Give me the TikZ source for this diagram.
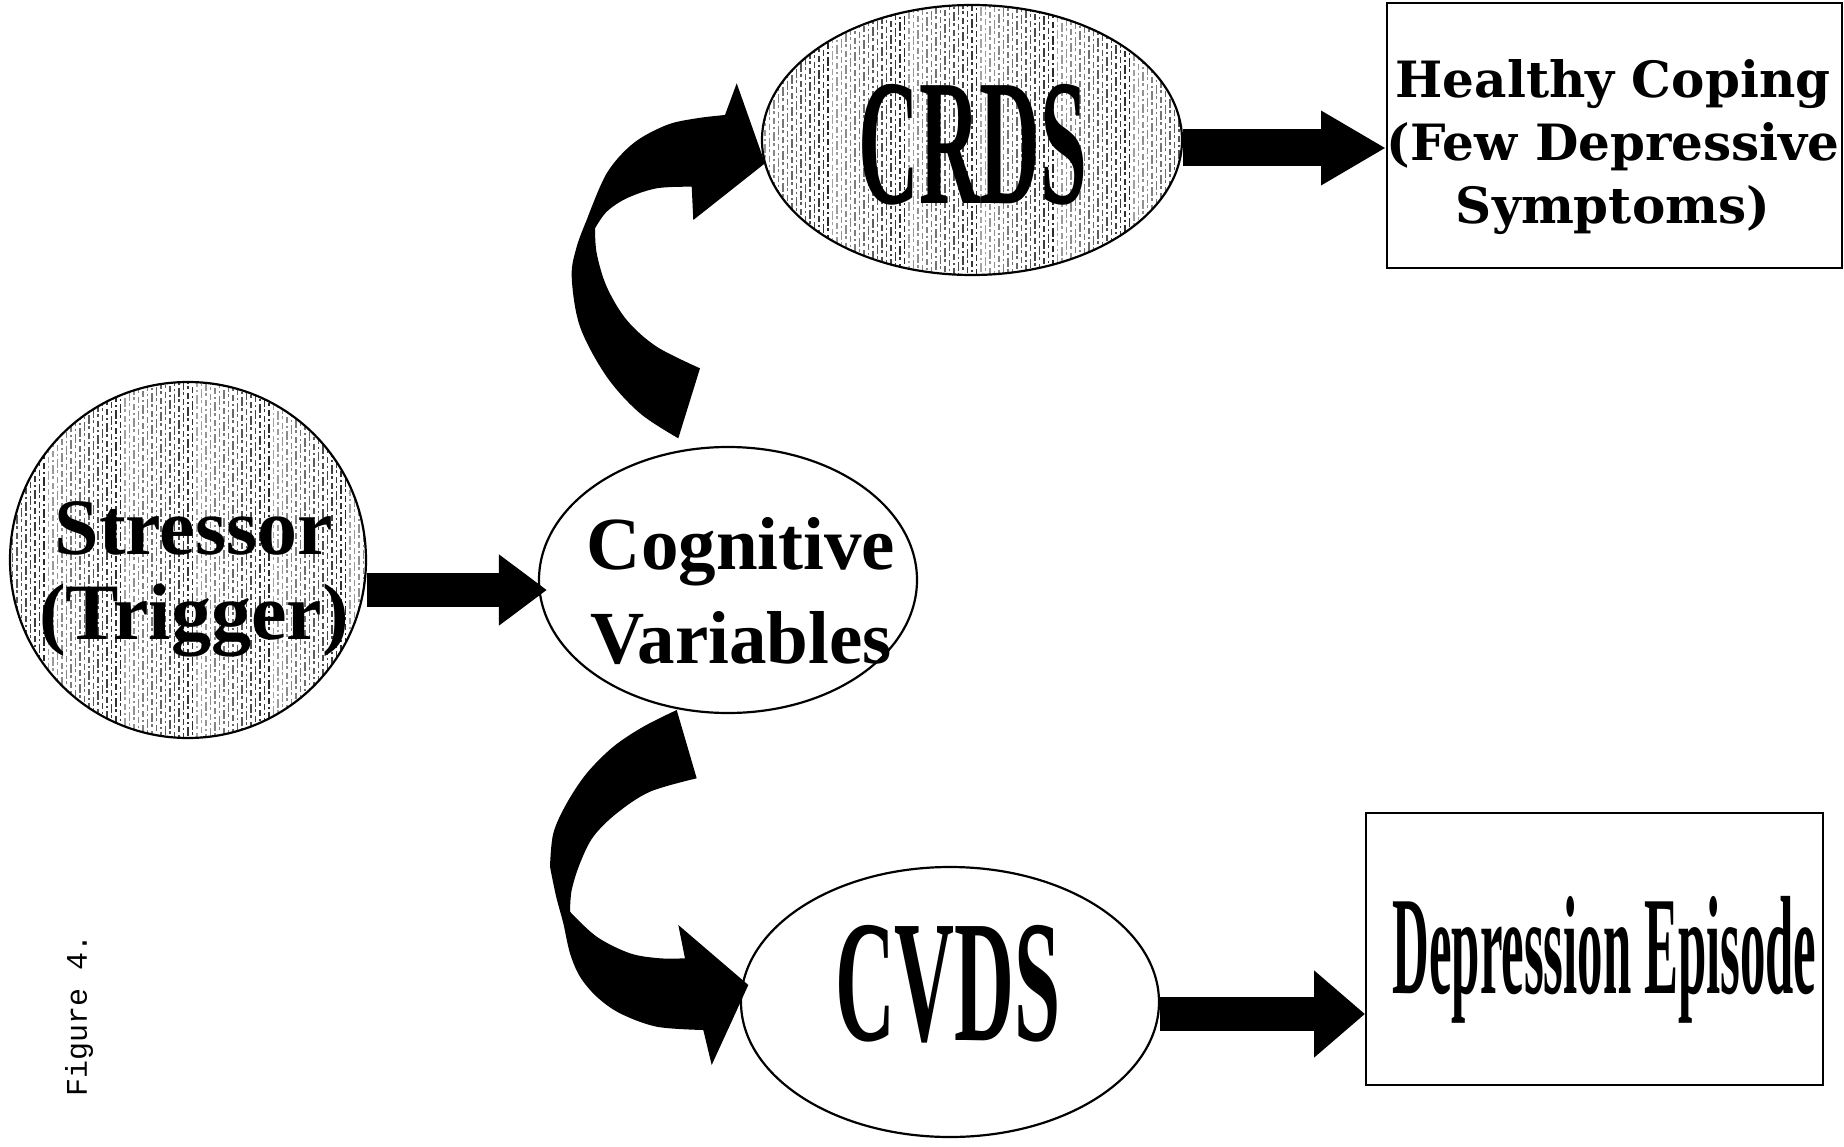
\documentclass[tikz,border=0pt]{standalone}
\usepackage{fontspec}
\setmainfont{Liberation Serif}
\newfontfamily\schfont{DejaVu Serif}
\newfontfamily\figmono{Liberation Mono}
\usetikzlibrary{arrows.meta,shapes.geometric}

\begin{document}
\begin{tikzpicture}[
  x=1pt, y=-1pt,
  outline/.style={draw=black, line width=2.2pt, inner sep=0pt},
  oval/.style={outline, ellipse, fill=white},
  hatchline/.style={line width=1.3pt,
    dash pattern=on 9pt off 2pt on 3pt off 4pt on 6pt off 3pt on 2pt off 3pt},
  hatched/.style={path picture={
    \foreach \k in {0,...,96}{
      \pgfmathsetmacro{\hph}{mod(\k*37,31)}
      \pgfmathtruncatemacro{\hcol}{35+mod(\k*53,50)}
      \draw[hatchline, draw=black!\hcol, dash phase=\hph pt]
        ([xshift={\k*4.5pt-216pt}, yshift=240pt]path picture bounding box.center) -- ++(0,480);
    }}},
  boxnode/.style={draw=black, line width=2pt, rectangle, inner sep=0pt, fill=white},
  label/.style={inner sep=0pt, align=center, font=\bfseries},
  blockarrow/.style n args={3}{draw=black, line width=#1,
    -{Triangle[length=#2, width=#3]}},
  ribbon/.style={fill=black}
]
\useasboundingbox (0,0) rectangle (1844,1147);

% ---- shapes ----
\node[oval, hatched, minimum width=356pt, minimum height=356pt] (stressor) at (188,560) {};
\node[oval, minimum width=378pt, minimum height=266pt] (cog) at (728,580) {};
\node[oval, hatched, minimum width=420pt, minimum height=270pt] (crds) at (972,140) {};
\node[oval, minimum width=418pt, minimum height=270pt] (cvds) at (950,1002) {};
\node[boxnode, minimum width=455pt, minimum height=265pt] (healthy) at (1614.5,135.5) {};
\node[boxnode, minimum width=457pt, minimum height=272pt] (depr) at (1594.5,949) {};

% ---- texts ----
\node[label, font=\bfseries\fontsize{80}{85}\selectfont] (stressortxt) at (194,579)
  {Stressor\\(Trigger)};
\node[label, font=\bfseries\fontsize{75}{94}\selectfont] (cogtxt) at (741,591)
  {Cognitive\\Variables};
\node[label] (crdstxt) at (973,145)
  {\scalebox{0.468}[1]{\fontsize{180}{180}\selectfont\bfseries CRDS}};
\node[label] (cvdstxt) at (948,984)
  {\scalebox{0.477}[1]{\fontsize{174}{174}\selectfont\bfseries CVDS}};
\node[label, font=\schfont\bfseries\fontsize{50}{63}\selectfont] (healthytxt) at (1613,147)
  {Healthy Coping\\(Few Depressive\\Symptoms)};
\node[label] (deprtxt) at (1604.5,960)
  {\scalebox{0.363}[1]{\fontsize{140}{140}\selectfont\bfseries Depression Episode}};
\node[rotate=90, inner sep=0pt, font=\figmono\fontsize{30}{30}\selectfont] (figlabel) at (79,1015)
  {Figure 4.};

% ---- straight block arrows ----
\draw[blockarrow={34pt}{48pt}{68pt}]
  ([yshift=-30pt]stressor.east) -- ([shift={(9pt,-10pt)}]cog.west);
\draw[blockarrow={37pt}{65pt}{70pt}]
  ([yshift=-8pt]crds.east) -- ([yshift=-12.5pt]healthy.west);
\draw[blockarrow={34pt}{51pt}{84pt}]
  ([yshift=-12pt]cvds.east) -- ([yshift=-65pt]depr.west);

% ---- curved ribbon arrow: Cognitive Variables -> CRDS ----
\fill[ribbon] (678.3,438.3)
  -- plot[smooth, tension=0.55] coordinates {(678.3,438.3) (640,413.3) (606.7,376.7) (580,326.7) (571.7,276.7) (576.7,246.7) (586.7,220)}
  -- plot[smooth, tension=0.55] coordinates {(586.7,220) (606.7,173.3) (633.3,143.3) (666.7,125) (696.7,118.3) (725,115)}
  -- (736.7,83.3) -- (765,163.3) -- (693.3,220) -- (691.7,186.7)
  -- plot[smooth, tension=0.55] coordinates {(691.7,186.7) (656.7,188.3) (626.7,198.3) (606.7,211.7) (595,228.3)}
  -- plot[smooth, tension=0.55] coordinates {(595,228.3) (596.7,253.3) (606.7,286.7) (626.7,320) (656.7,346.7) (700,368.3)}
  -- cycle;

% ---- curved ribbon arrow: Cognitive Variables -> CVDS ----
\fill[ribbon] (676.7,710)
  -- plot[smooth, tension=0.55] coordinates {(676.7,710) (643.3,726.7) (613.3,746.7) (586.7,773.3) (566.7,803.3) (553.3,833.3) (550,866.7)}
  -- plot[smooth, tension=0.55] coordinates {(550,866.7) (556,896) (563.3,923.3) (570,953.3) (580,976.7) (596.7,996.7) (620,1013.3) (656.7,1026.7) (703.3,1030)}
  -- (711.7,1065) -- (748.3,985) -- (678.3,925) -- (685,958.3)
  -- plot[smooth, tension=0.55] coordinates {(685,958.3) (660,958.3) (630,953.3) (596.7,936.7) (570,911.7)}
  -- plot[smooth, tension=0.55] coordinates {(570,911.7) (571.7,890) (580,863.3) (593.3,836.7) (616.7,813.3) (650,791.7) (696.7,778.3)}
  -- cycle;
\end{tikzpicture}
\end{document}
